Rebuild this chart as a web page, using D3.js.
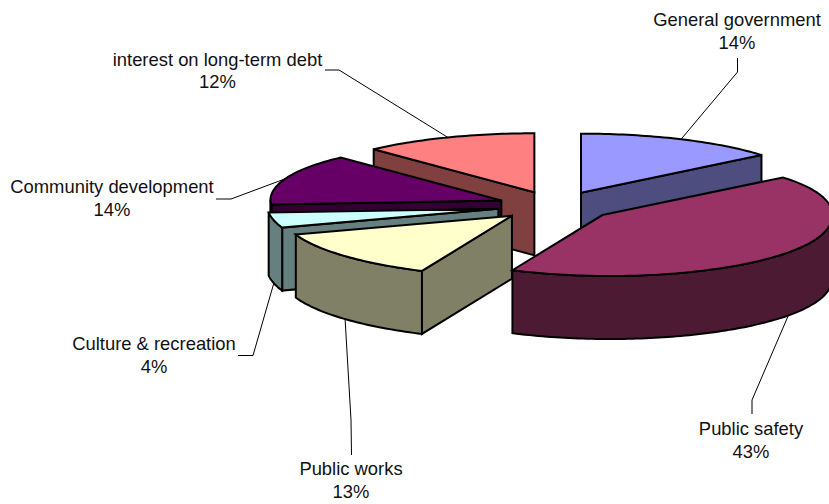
<!DOCTYPE html>
<html>
<head>
<meta charset="utf-8">
<style>
  html, body { margin: 0; padding: 0; background: #fff; }
  svg { display: block; }
  text { font-family: "Liberation Sans", Arial, sans-serif; font-size: 18.4px; fill: #111; text-anchor: middle; }
</style>
<script src="https://cdn.jsdelivr.net/npm/d3@7"></script>
</head>
<body>
<svg id="chart" width="829" height="504"></svg>
<script>
// Spending shares, clockwise from twelve o'clock
const categories = ["General government", "Public safety", "Public works",
                    "Culture & recreation", "Community development", "interest on long-term debt"];
const shares = [14, 43, 13, 4, 14, 12];
const topColors = ["#9999FF", "#993366", "#FFFFCC", "#CCFFFF", "#660066", "#FF8080"];
const wallColors = ["#4D4D80", "#4D1A33", "#808066", "#668080", "#330033", "#804040"];

// Disc geometry of the tilted pie
const centre = { x: 556, y: 206 };
const rx = 235, ry = 59, depth = 63, explode = 0.25;

// Label layout: centre and baseline of each caption, then the leader elbow and its free end
const labelX = [737, 751, 351, 154, 112, 217.5];
const labelY = [26, 435, 475, 350, 193, 65.5];
const elbows = [[737.5, 72], [752, 400], [351, 420], [253, 355.5], [231, 199], [339, 70]];
const leaderEnds = [[737.5, 58], [752, 414], [351.5, 455], [238, 355.5], [216, 199], [325, 70]];

// Back-to-front order of the slices
const paintOrder = [5, 0, 4, 3, 2, 1];

const svg = d3.select("#chart");
const arcs = d3.pie().sort(null).value(d => d).startAngle(0).endAngle(2 * Math.PI)(shares);
const line = d3.line();

// Where each slice's apex lands once it is pulled out along its mid-angle
function apexOf(d) {
  const mid = (d.startAngle + d.endAngle) / 2;
  return [centre.x + explode * rx * Math.sin(mid), centre.y - explode * ry * Math.cos(mid)];
}

// Rim point for an angle, with a small perspective skew toward the near left of the disc
function rimPoint(cx, cy, a) {
  const s = Math.sin(a), c = Math.cos(a);
  const near = Math.max(0, -c), left = Math.max(0, -s), right = Math.max(0, s);
  return [cx + rx * s + 7.8 * near * (1 - s) + 4 * Math.pow(left, 8) - 5 * Math.pow(right, 8),
          cy - ry * c + 2 * near];
}

// Sample the rim between two angles
function rim(cx, cy, a0, a1) {
  const n = Math.max(2, Math.ceil(Math.abs(a1 - a0) / 0.02));
  return d3.range(n + 1).map(i => rimPoint(cx, cy, a0 + (a1 - a0) * i / n));
}
const drop = pts => pts.map(([x, y]) => [x, y + depth]);
const closed = pts => line(pts) + "Z";

function drawSlice(i) {
  const { startAngle: a0, endAngle: a1 } = arcs[i];
  const [ax, ay] = apexOf(arcs[i]);
  const g = svg.append("g").attr("class", "slice");
  const wall = pts => g.append("path").attr("d", closed(pts))
    .attr("fill", wallColors[i]).attr("stroke", "#000").attr("stroke-width", 2).attr("stroke-linejoin", "miter");

  // Radial side walls that face the viewer
  if (Math.sin(a0) < -1e-6) {
    const edge = [[ax, ay], rimPoint(ax, ay, a0)];
    wall([...edge, ...drop(edge).reverse()]);
  }
  if (Math.sin(a1) > 1e-6) {
    const edge = [[ax, ay], rimPoint(ax, ay, a1)];
    wall([...edge, ...drop(edge).reverse()]);
  }

  // Outer curved wall on the near half of the disc
  const lo = Math.max(a0, Math.PI / 2), hi = Math.min(a1, 3 * Math.PI / 2);
  if (hi > lo) {
    const arc = rim(ax, ay, lo, hi);
    wall([...arc, ...drop(arc).reverse()]);
  }

  // Top face
  g.append("path").attr("d", closed([[ax, ay], ...rim(ax, ay, a0, a1)]))
    .attr("fill", topColors[i]).attr("stroke", "#000").attr("stroke-width", 2).attr("stroke-linejoin", "miter");
}

// Leader lines sit beneath the slices and start on the rim at each slice's mid-angle
arcs.forEach((d, i) => {
  const mid = (d.startAngle + d.endAngle) / 2;
  const [ax, ay] = apexOf(d);
  let p = rimPoint(ax, ay, mid);
  if (Math.cos(mid) < 0) p = [p[0], p[1] + depth];
  svg.append("path").attr("d", line([leaderEnds[i], elbows[i], p]))
    .attr("fill", "none").attr("stroke", "#000").attr("stroke-width", 1);
});

paintOrder.forEach(drawSlice);

// Captions: category name above its percentage
categories.forEach((name, i) => {
  const t = svg.append("text").attr("x", labelX[i]).attr("y", labelY[i]);
  t.append("tspan").attr("x", labelX[i]).text(name);
  t.append("tspan").attr("x", labelX[i]).attr("dy", 22.5).text(shares[i] + "%");
});
</script>
</body>
</html>
